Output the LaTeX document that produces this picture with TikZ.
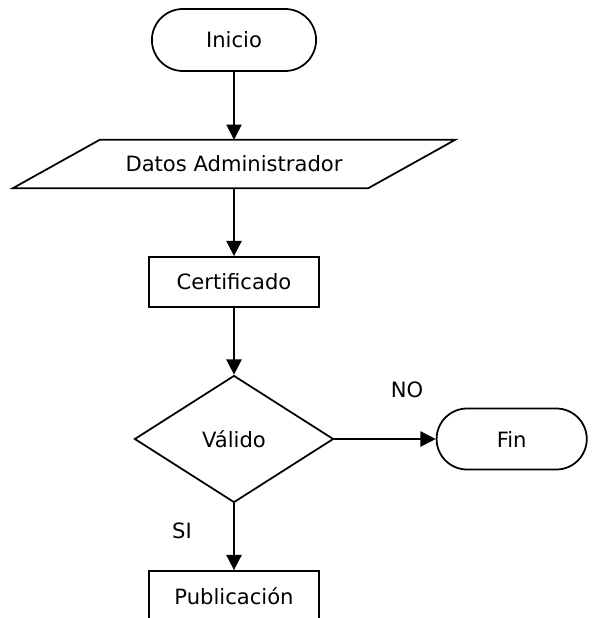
\documentclass[tikz,border=0pt]{standalone}
\usepackage{fontspec}
\setmainfont{DejaVu Sans}
\usetikzlibrary{shapes.geometric, shapes.misc, arrows.meta}

\begin{document}
\begin{tikzpicture}[
    every node/.style={font=\fontsize{18}{22}\selectfont},
    terminal/.style={draw, line width=1.5pt, rounded rectangle, minimum width=5.16cm, minimum height=1.86cm},
    datosbox/.style={rectangle, minimum width=8.04cm, minimum height=1.44cm, inner sep=0pt},
    proceso/.style={draw, line width=1.5pt, rectangle, minimum width=5.1cm, minimum height=1.5cm},
    decision/.style={draw, line width=1.5pt, diamond, minimum width=5.97cm, minimum height=3.81cm, inner sep=0pt},
    flecha/.style={line width=1.5pt, -{Triangle[length=13pt, width=13pt]}}
]
\useasboundingbox (0,0) rectangle (17.76,-18.54);
\clip (0,0) rectangle (17.76,-18.54);

% Nodes
\node[terminal] (inicio) at (7.02,-1.2) {Inicio};
\node[datosbox] (datos) at (7.02,-4.92) {Datos Administrador};
\node[proceso] (cert) at (7.02,-8.46) {Certificado};
\node[decision] (valido) at (7.02,-13.17) {Válido};
\node[terminal, minimum width=4.74cm, minimum height=1.83cm] (fin) at (15.35,-13.17) {Fin};
\node[proceso] (pub) at (7.02,-17.88) {Publicación};

% Parallelogram round the data node
\draw[line width=1.5pt] ([xshift=-2.61cm]datos.south west) -- (datos.north west)
    -- ([xshift=2.61cm]datos.north east) -- (datos.south east) -- cycle;

% Labels
\node (no) at (12.21,-11.7) {NO};
\node (si) at (5.46,-15.93) {SI};

% Arrows
\draw[flecha] (inicio) -- (datos);
\draw[flecha] (datos) -- (cert);
\draw[flecha] (cert) -- (valido);
\draw[flecha] (valido) -- (fin);
\draw[flecha] (valido) -- (pub);

\end{tikzpicture}
\end{document}
